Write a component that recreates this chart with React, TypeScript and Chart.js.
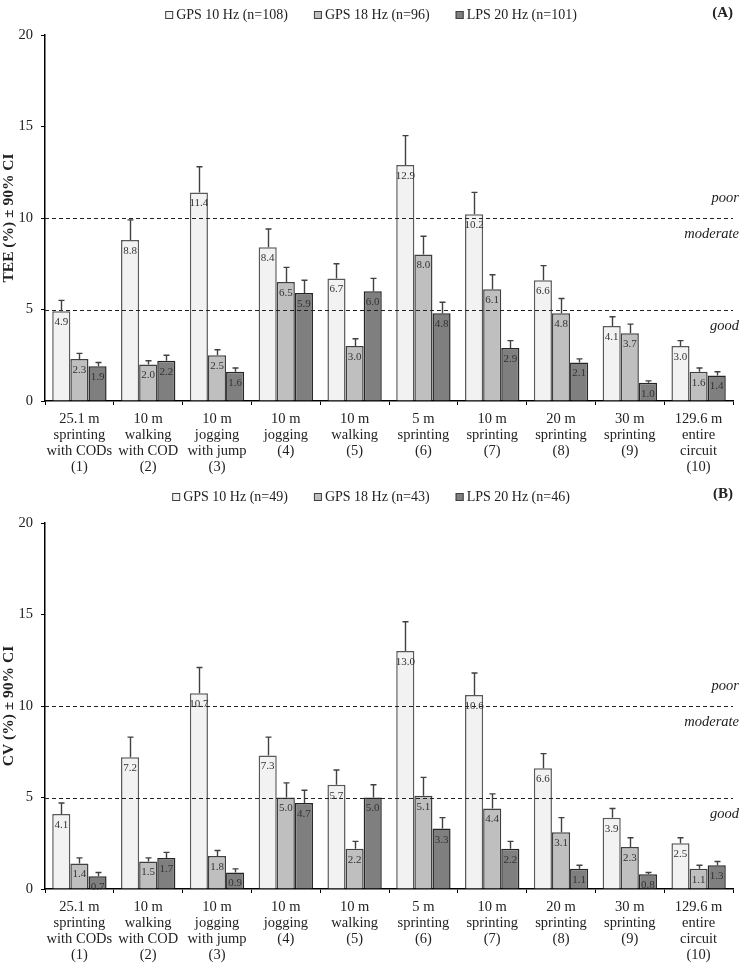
import React, { useEffect, useRef } from "react";
import { Chart, registerables } from "chart.js";

Chart.register(...registerables);

// ---------- data ----------
const categories: string[][] = [
  ["25.1 m", "sprinting", "with CODs", "(1)"],
  ["10 m", "walking", "with COD", "(2)"],
  ["10 m", "jogging", "with jump", "(3)"],
  ["10 m", "jogging", "(4)"],
  ["10 m", "walking", "(5)"],
  ["5 m", "sprinting", "(6)"],
  ["10 m", "sprinting", "(7)"],
  ["20 m", "sprinting", "(8)"],
  ["30 m", "sprinting", "(9)"],
  ["129.6 m", "entire", "circuit", "(10)"],
];

const seriesNames = ["GPS 10 Hz", "GPS 18 Hz", "LPS 20 Hz"];
const teeCounts = [108, 96, 101];
const cvCounts = [49, 43, 46];

// Panel A: TEE
const teeGps10 = [4.9, 8.8, 11.4, 8.4, 6.7, 12.9, 10.2, 6.6, 4.1, 3.0];
const teeGps18 = [2.3, 2.0, 2.5, 6.5, 3.0, 8.0, 6.1, 4.8, 3.7, 1.6];
const teeLps20 = [1.9, 2.2, 1.6, 5.9, 6.0, 4.8, 2.9, 2.1, 1.0, 1.4];
// upper 90% CI limits
const teeGps10Upper = [5.5, 9.9, 12.8, 9.4, 7.5, 14.5, 11.4, 7.4, 4.6, 3.3];
const teeGps18Upper = [2.6, 2.2, 2.8, 7.3, 3.4, 9.0, 6.9, 5.6, 4.2, 1.8];
const teeLps20Upper = [2.1, 2.5, 1.8, 6.6, 6.7, 5.4, 3.3, 2.3, 1.1, 1.6];

// Panel B: CV
const cvGps10 = [4.1, 7.2, 10.7, 7.3, 5.7, 13.0, 10.6, 6.6, 3.9, 2.5];
const cvGps18 = [1.4, 1.5, 1.8, 5.0, 2.2, 5.1, 4.4, 3.1, 2.3, 1.1];
const cvLps20 = [0.7, 1.7, 0.9, 4.7, 5.0, 3.3, 2.2, 1.1, 0.8, 1.3];
const cvGps10Upper = [4.7, 8.3, 12.1, 8.3, 6.5, 14.6, 11.8, 7.4, 4.4, 2.8];
const cvGps18Upper = [1.7, 1.7, 2.1, 5.8, 2.6, 6.1, 5.2, 3.9, 2.8, 1.3];
const cvLps20Upper = [0.9, 2.0, 1.1, 5.4, 5.7, 3.9, 2.6, 1.3, 0.9, 1.5];

const thresholds = [5, 10];
const zoneLabels = ["poor", "moderate", "good"];
const zoneLabelValues = [11.1, 9.1, 4.1];

const yMin = 0;
const yMax = 20;
const yStep = 5;

// ---------- styles ----------
const FONT = "'Liberation Serif', 'Times New Roman', serif";
const fills = ["#f2f2f2", "#bfbfbf", "#7f7f7f"];
const borders = ["#595959", "#404040", "#262626"];
const TEXT = "#222";

type PanelProps = {
  tag: string;
  yTitle: string;
  counts: number[];
  values: number[][];
  uppers: number[][];
  legendY: number;
  tagY: number;
};

const overlayPlugin = {
  id: "overlay",
  afterDatasetsDraw(chart: any, _args: any, opts: any) {
    const { ctx, chartArea } = chart;
    const y = chart.scales.y;
    // dashed threshold lines
    ctx.save();
    ctx.strokeStyle = "#222";
    ctx.lineWidth = 1;
    ctx.setLineDash([4, 3]);
    thresholds.forEach((t) => {
      const py = Math.round(y.getPixelForValue(t)) + 0.5;
      ctx.beginPath();
      ctx.moveTo(chartArea.left, py);
      ctx.lineTo(chartArea.right, py);
      ctx.stroke();
    });
    ctx.restore();

    // error bars
    ctx.save();
    ctx.strokeStyle = "#404040";
    ctx.lineWidth = 1.4;
    chart.data.datasets.forEach((_ds: any, i: number) => {
      const meta = chart.getDatasetMeta(i);
      meta.data.forEach((el: any, j: number) => {
        const up = opts.uppers[i][j];
        const yTop = el.y;
        const yU = y.getPixelForValue(up);
        const x = Math.round(el.x) + 0.5;
        ctx.beginPath();
        ctx.moveTo(x, yTop);
        ctx.lineTo(x, yU);
        ctx.moveTo(x - 3, yU);
        ctx.lineTo(x + 3, yU);
        ctx.stroke();
      });
    });
    ctx.restore();

    // value labels
    ctx.save();
    ctx.font = `11px ${FONT}`;
    ctx.fillStyle = "#333";
    ctx.textAlign = "center";
    ctx.textBaseline = "middle";
    chart.data.datasets.forEach((ds: any, i: number) => {
      const meta = chart.getDatasetMeta(i);
      meta.data.forEach((el: any, j: number) => {
        ctx.fillText(ds.data[j].toFixed(1), el.x, el.y + 11);
      });
    });
    ctx.restore();
  },
  afterDraw(chart: any, _args: any, opts: any) {
    const { ctx, chartArea } = chart;
    const y = chart.scales.y;
    // y title
    ctx.save();
    ctx.font = `bold 15.5px ${FONT}`;
    ctx.fillStyle = TEXT;
    ctx.textAlign = "center";
    ctx.textBaseline = "middle";
    ctx.translate(9, (chartArea.top + chartArea.bottom) / 2);
    ctx.rotate(-Math.PI / 2);
    ctx.fillText(opts.yTitle, 0, 0);
    ctx.restore();

    // zone labels
    ctx.save();
    ctx.font = `italic 14.5px ${FONT}`;
    ctx.fillStyle = TEXT;
    ctx.textAlign = "right";
    ctx.textBaseline = "middle";
    zoneLabels.forEach((lab, k) => {
      ctx.fillText(lab, 739, y.getPixelForValue(zoneLabelValues[k]));
    });
    ctx.restore();

    // panel tag
    ctx.save();
    ctx.font = `bold 15px ${FONT}`;
    ctx.fillStyle = TEXT;
    ctx.textAlign = "right";
    ctx.textBaseline = "middle";
    ctx.fillText(opts.tag, 733, opts.tagY);
    ctx.restore();

    // legend
    ctx.save();
    ctx.font = `14px ${FONT}`;
    ctx.textBaseline = "middle";
    ctx.textAlign = "left";
    const box = 8;
    const gap = 3;
    const spacing = 26;
    const texts = seriesNames.map((n, i) => `${n} (n=${opts.counts[i]})`);
    const widths = texts.map((t) => box + gap + ctx.measureText(t).width);
    const total = widths.reduce((a, b) => a + b, 0) + spacing * (texts.length - 1);
    let x = 371 - total / 2;
    const ly = opts.legendY;
    texts.forEach((t, i) => {
      ctx.fillStyle = fills[i];
      ctx.fillRect(x, ly - box / 2, box, box);
      ctx.strokeStyle = "#404040";
      ctx.lineWidth = 1;
      ctx.strokeRect(x + 0.5, ly - box / 2 + 0.5, box - 1, box - 1);
      ctx.fillStyle = TEXT;
      ctx.fillText(t, x + box + gap, ly);
      x += widths[i] + spacing;
    });
    ctx.restore();
  },
};

function Panel(props: PanelProps) {
  const ref = useRef<HTMLCanvasElement | null>(null);
  useEffect(() => {
    if (!ref.current) return;
    const tickFont = { family: FONT, size: 14.5, lineHeight: 1.1 };
    const chart = new Chart(ref.current, {
      type: "bar",
      data: {
        labels: categories,
        datasets: props.values.map((vals, i) => ({
          label: seriesNames[i],
          data: vals,
          backgroundColor: fills[i],
          borderColor: borders[i],
          borderWidth: 1.5,
          categoryPercentage: 0.79,
          barPercentage: 1.0,
        })),
      },
      options: {
        responsive: false,
        animation: false,
        layout: { padding: { top: 35, right: 9, left: 0, bottom: 0 } },
        plugins: {
          legend: { display: false },
          tooltip: { enabled: false },
          overlay: {
            uppers: props.uppers,
            yTitle: props.yTitle,
            tag: props.tag,
            counts: props.counts,
            legendY: props.legendY,
            tagY: props.tagY,
          },
        } as any,
        scales: {
          x: {
            grid: {
              display: true,
              drawOnChartArea: false,
              drawTicks: true,
              tickLength: 4,
              color: "#000",
              offset: true,
              lineWidth: 1,
            },
            border: { display: true, color: "#000", width: 1.5 },
            ticks: {
              font: tickFont,
              color: TEXT,
              padding: 6,
              maxRotation: 0,
              autoSkip: false,
            },
            afterFit(s: any) {
              s.height = 87;
            },
          },
          y: {
            min: yMin,
            max: yMax,
            ticks: {
              stepSize: yStep,
              font: { family: FONT, size: 14.5 },
              color: TEXT,
              padding: 8,
            },
            grid: {
              display: true,
              drawOnChartArea: false,
              drawTicks: true,
              tickLength: 4,
              color: "#000",
            },
            border: { display: true, color: "#000", width: 1.5 },
            afterFit(s: any) {
              s.width = 45;
            },
          },
        },
      },
      plugins: [overlayPlugin as any],
    });
    return () => chart.destroy();
  }, []);
  return <canvas ref={ref} width={742} height={488} style={{ display: "block" }} />;
}

export default function App() {
  return (
    <div style={{ position: "absolute", left: 0, top: 0, width: 742, height: 964, background: "#fff" }}>
      <div style={{ position: "absolute", left: 0, top: 0 }}>
        <Panel
          tag="(A)"
          yTitle="TEE (%) ± 90% CI"
          counts={teeCounts}
          values={[teeGps10, teeGps18, teeLps20]}
          uppers={[teeGps10Upper, teeGps18Upper, teeLps20Upper]}
          legendY={15}
          tagY={13}
        />
      </div>
      <div style={{ position: "absolute", left: 0, top: 488 }}>
        <Panel
          tag="(B)"
          yTitle="CV (%) ± 90% CI"
          counts={cvCounts}
          values={[cvGps10, cvGps18, cvLps20]}
          uppers={[cvGps10Upper, cvGps18Upper, cvLps20Upper]}
          legendY={9}
          tagY={6}
        />
      </div>
    </div>
  );
}
